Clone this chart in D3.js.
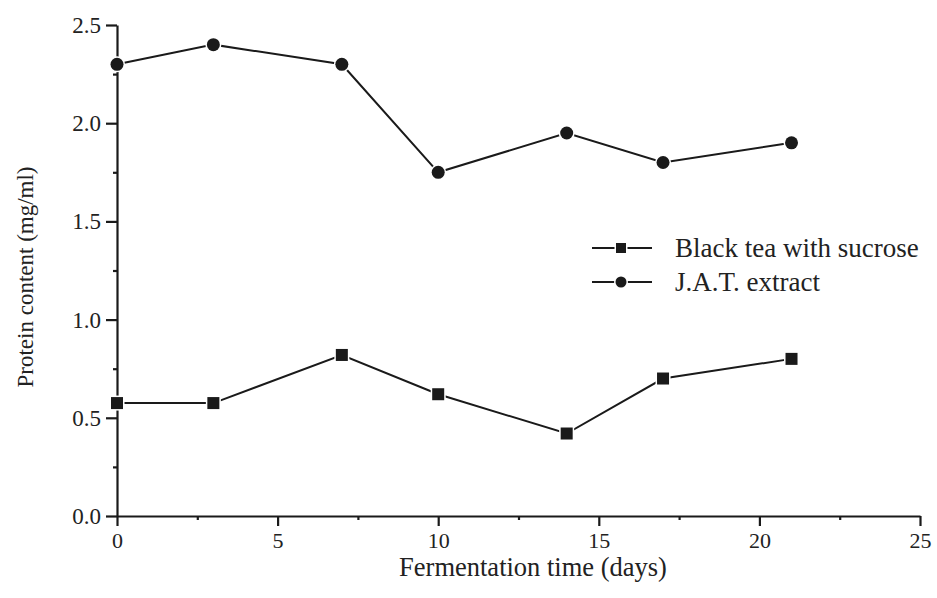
<!DOCTYPE html>
<html><head><meta charset="utf-8">
<script src="https://d3js.org/d3.v7.min.js"></script>
<style>body{margin:0;background:#fff}</style>
</head><body>
<svg id="c" width="937" height="598"></svg>
<script>
const days = [0, 3, 7, 10, 14, 17, 21];
const blackTea = [0.575, 0.575, 0.82, 0.62, 0.42, 0.70, 0.80];
const jat = [2.30, 2.40, 2.30, 1.75, 1.95, 1.80, 1.90];
const seriesNames = ["Black tea with sucrose", "J.A.T. extract"];
const xTicks = [0, 5, 10, 15, 20, 25];
const yTicks = [0.0, 0.5, 1.0, 1.5, 2.0, 2.5];

const svg = d3.select("#c");
const font = "Liberation Serif, Times New Roman, serif";
const x = d3.scaleLinear().domain([0, 25]).range([117, 920]);
const y = d3.scaleLinear().domain([0, 2.5]).range([516, 25]);
const col = "#1a1a1a";

// axes
const xAxis = svg.append("g").attr("transform", "translate(0,516)")
  .call(d3.axisBottom(x).tickValues(xTicks).tickFormat(d3.format("d")).tickSize(10).tickSizeOuter(0));
const xMinor = svg.append("g").attr("transform", "translate(0,516)")
  .call(d3.axisBottom(x).tickValues(d3.range(2.5, 25, 5)).tickFormat("").tickSize(4).tickSizeOuter(0));
const yAxis = svg.append("g").attr("transform", "translate(117,0)")
  .call(d3.axisLeft(y).tickValues(yTicks).tickFormat(d3.format(".1f")).tickSize(11).tickSizeOuter(0));
const yMinor = svg.append("g").attr("transform", "translate(117,0)")
  .call(d3.axisLeft(y).tickValues(d3.range(0.25, 2.5, 0.5)).tickFormat("").tickSize(4).tickSizeOuter(0));
[xAxis, xMinor, yAxis, yMinor].forEach(g => {
  g.selectAll("path,line").attr("stroke", col).attr("stroke-width", 2.2);
  g.selectAll("text").attr("font-family", font).attr("font-size", 23).attr("fill", "#222");
});
xMinor.select(".domain").remove();
yMinor.select(".domain").remove();
xAxis.selectAll("text").attr("font-size", 22).attr("dy", 0).attr("y", 32);
yAxis.selectAll("text").attr("x", -16).attr("dy", "0.33em");

// axis titles
svg.append("text").attr("x", 533).attr("y", 576).attr("text-anchor", "middle")
  .attr("font-family", font).attr("font-size", 26.5).attr("fill", "#222").text("Fermentation time (days)");
svg.append("text").attr("transform", "translate(33,277) rotate(-90)").attr("text-anchor", "middle")
  .attr("font-family", font).attr("font-size", 23).attr("fill", "#222").text("Protein content (mg/ml)");

const line = d3.line().x(d => x(d[0])).y(d => y(d[1]));
const sets = [
  {vals: blackTea, shape: "square"},
  {vals: jat, shape: "circle"}
];
function drawMarker(g, shape, cx, cy) {
  if (shape === "square") {
    g.append("rect").attr("x", cx - 6).attr("y", cy - 6).attr("width", 12).attr("height", 12)
      .attr("fill", col).attr("stroke", "#fff").attr("stroke-width", 3).attr("paint-order", "stroke");
  } else {
    g.append("circle").attr("cx", cx).attr("cy", cy).attr("r", 6.5)
      .attr("fill", col).attr("stroke", "#fff").attr("stroke-width", 3).attr("paint-order", "stroke");
  }
}
sets.forEach(s => {
  const pts = days.map((d, i) => [d, s.vals[i]]);
  svg.append("path").attr("d", line(pts)).attr("fill", "none").attr("stroke", col).attr("stroke-width", 2);
  const g = svg.append("g");
  pts.forEach(p => drawMarker(g, s.shape, x(p[0]), y(p[1])));
});

// legend
const legY = [248, 282];
sets.forEach((s, i) => {
  const g = svg.append("g");
  g.append("line").attr("x1", 592).attr("x2", 652).attr("y1", legY[i]).attr("y2", legY[i])
    .attr("stroke", col).attr("stroke-width", 2);
  if (s.shape === "square") {
    g.append("rect").attr("x", 616).attr("y", legY[i] - 5).attr("width", 10).attr("height", 10)
      .attr("fill", col).attr("stroke", "#fff").attr("stroke-width", 3).attr("paint-order", "stroke");
  } else {
    g.append("circle").attr("cx", 621).attr("cy", legY[i]).attr("r", 5.5)
      .attr("fill", col).attr("stroke", "#fff").attr("stroke-width", 3).attr("paint-order", "stroke");
  }
  g.append("text").attr("x", 675).attr("y", legY[i]).attr("dy", "0.33em")
    .attr("font-family", font).attr("font-size", 27).attr("fill", "#222").text(seriesNames[i]);
});
</script>
</body></html>
